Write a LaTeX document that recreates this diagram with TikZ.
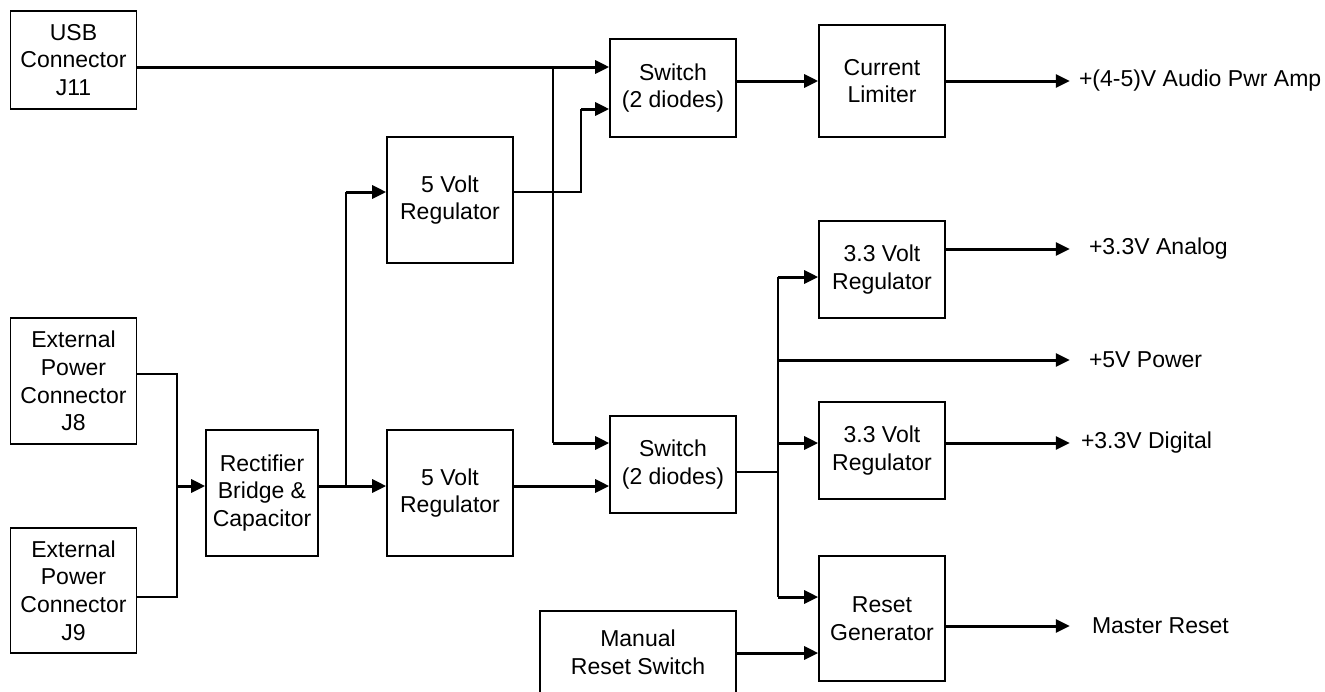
\documentclass[tikz,border=0pt]{standalone}
\usepackage{fontspec}
\setmainfont{Liberation Sans}
\usetikzlibrary{arrows.meta,positioning}

\begin{document}
\begin{tikzpicture}[node distance=200pt, auto, font=\fontsize{23}{27.7}\selectfont]
    % Define styles
    \tikzstyle{block} = [rectangle, draw, line width=1.6pt, align=center, inner sep=0pt, minimum width=126pt]
    \tikzstyle{outlabel} = [anchor=west, inner ysep=0pt]
    \tikzstyle{wire} = [line width=1.5pt]
    \tikzstyle{arrow} = [line width=3pt, -{Triangle[length=14pt, width=13pt]}]

    \useasboundingbox (0,0) rectangle (1325pt,-691pt);

    % Inputs and regulators
    \node [block, minimum height=98pt] (usb) at (73.5pt,-60pt) {USB\\Connector\\J11};
    \node [block, minimum height=126pt, below of=usb, node distance=321pt] (j8) {External\\Power\\Connector\\J8};
    \node [block, minimum height=125pt, below of=j8, node distance=209.5pt] (j9) {External\\Power\\Connector\\J9};
    \node [block, minimum width=112pt, minimum height=126pt, right of=j8, node distance=188.5pt, yshift=-112pt] (rect) {Rectifier\\Bridge \&\\Capacitor};
    \node [block, minimum height=126pt, right of=rect, node distance=188pt] (reg5b) {5 Volt\\Regulator};
    \node [block, minimum height=126pt, above of=reg5b, node distance=293pt] (reg5a) {5 Volt\\Regulator};

    % Switches and outputs
    \node [block, minimum height=97pt, right of=reg5b, node distance=223pt, yshift=28.5pt] (swb) {Switch\\(2 diodes)};
    \node [block, minimum height=98pt, above of=swb, node distance=376.5pt] (swa) {Switch\\(2 diodes)};
    \node [block, minimum height=112pt, right of=swa, node distance=209pt, yshift=7pt] (lim) {Current\\Limiter};
    \node [block, minimum height=97pt, right of=swb, node distance=209pt, yshift=14pt] (reg33b) {3.3 Volt\\Regulator};
    \node [block, minimum height=97pt, above of=reg33b, node distance=181pt] (reg33a) {3.3 Volt\\Regulator};
    \node [block, minimum height=125pt, below of=reg33b, node distance=168pt] (rstgen) {Reset\\Generator};
    \node [block, minimum width=196pt, minimum height=82pt, left of=rstgen, node distance=244pt, yshift=-33.5pt] (manual) {Manual\\Reset Switch};

    % Output labels
    \node [outlabel, inner xsep=9pt] (amp) at ([xshift=124pt]lim.east) {+(4-5)V Audio Pwr Amp};
    \node [outlabel, inner xsep=19pt] (analog) at ([xshift=124pt,yshift=20.5pt]reg33a.east) {+3.3V Analog};
    \node [outlabel, inner xsep=19pt] (pwr) at ([xshift=124pt,yshift=-90.5pt]reg33a.east) {+5V Power};
    \node [outlabel, inner xsep=11pt] (digital) at ([xshift=124pt,yshift=7.5pt]reg33b.east) {+3.3V Digital};
    \node [outlabel, inner xsep=22pt] (master) at ([xshift=124pt,yshift=-7.5pt]rstgen.east) {Master Reset};

    % Junction points
    \coordinate (swain1) at ([yshift=21pt]swa.west);
    \coordinate (swain2) at ([yshift=-21pt]swa.west);
    \coordinate (usbtap) at ([xshift=-56pt]swain1);
    \coordinate (swbin1) at ([yshift=21.5pt]swb.west);
    \coordinate (rectin) at ([yshift=7pt]rect.west);
    \coordinate (merge) at ([xshift=-28pt]rectin);
    \coordinate (rtap) at ([xshift=27pt,yshift=7pt]rect.east);
    \coordinate (reg5ain) at ([yshift=8pt]reg5a.west);
    \coordinate (bus) at ([xshift=41pt,yshift=-7.5pt]swb.east);
    \coordinate (r33ain) at ([yshift=-7.5pt]reg33a.west);
    \coordinate (r33bin) at ([yshift=7.5pt]reg33b.west);
    \coordinate (rstin1) at ([yshift=21.5pt]rstgen.west);
    \coordinate (rstin2) at ([yshift=-34.5pt]rstgen.west);

    % Arrows
    \draw [arrow] ([yshift=-7pt]usb.east) -- (swain1);
    \draw [wire] (usbtap) -- (usbtap |- swbin1);
    \draw [arrow] (usbtap |- swbin1) -- (swbin1);
    \draw [wire] ([yshift=8pt]reg5a.east) -| ([xshift=-28pt]swain2);
    \draw [arrow] ([xshift=-28pt]swain2) -- (swain2);
    \draw [arrow] (swa.east |- lim) -- (lim);
    \draw [arrow] (lim) -- (amp);

    \draw [wire] ([yshift=7pt]j8.east) -| (merge) |- ([yshift=-6.5pt]j9.east);
    \draw [arrow] (merge) -- (rectin);
    \draw [arrow] ([yshift=7pt]rect.east) -- ([yshift=7pt]reg5b.west);
    \draw [wire] (rtap) -- (rtap |- reg5ain);
    \draw [arrow] (rtap |- reg5ain) -- (reg5ain);
    \draw [arrow] ([yshift=7pt]reg5b.east) -- ([yshift=-21.5pt]swb.west);

    % Supply bus
    \draw [wire] ([yshift=-7.5pt]swb.east) -- (bus);
    \draw [wire] (bus |- r33ain) -- (bus |- rstin1);
    \draw [arrow] (bus |- r33ain) -- (r33ain);
    \draw [arrow] (bus |- pwr) -- (pwr);
    \draw [arrow] (bus |- r33bin) -- (r33bin);
    \draw [arrow] (bus |- rstin1) -- (rstin1);
    \draw [arrow] (manual.east |- rstin2) -- (rstin2);
    \draw [arrow] ([yshift=20.5pt]reg33a.east) -- (analog);
    \draw [arrow] ([yshift=7.5pt]reg33b.east) -- (digital);
    \draw [arrow] ([yshift=-7.5pt]rstgen.east) -- (master);
\end{tikzpicture}
\end{document}
